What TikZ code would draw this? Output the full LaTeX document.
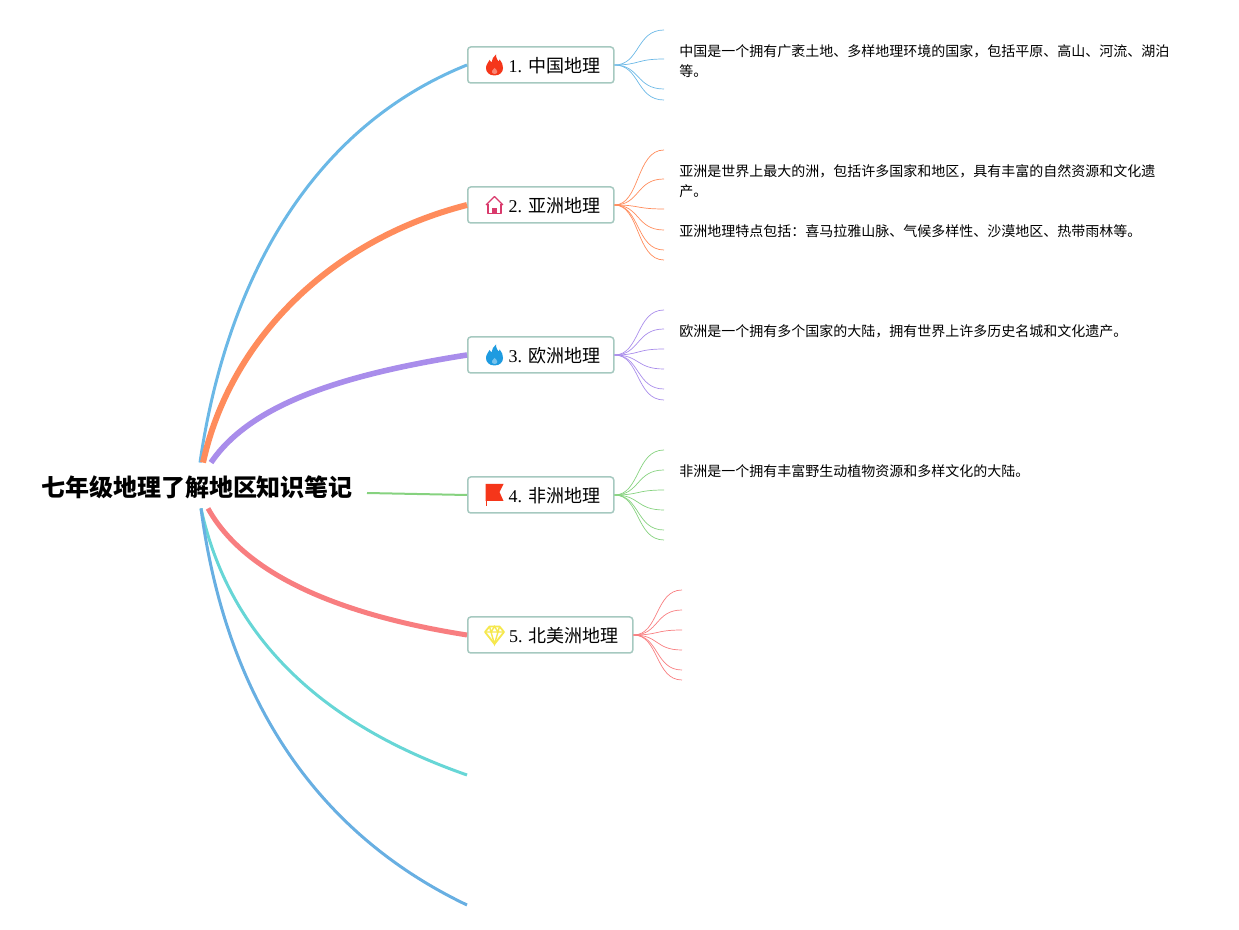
\documentclass[tikz,border=0pt]{standalone}
\usepackage{fontspec}
\setmainfont{Liberation Serif}
\newfontfamily\cjk{Noto Sans CJK SC}
\newcommand\zhcomma{\symbol{"FF0C}}
\newcommand\zhcolon{\symbol{"FF1A}}
\definecolor{boxline}{HTML}{A6C9C0}
\definecolor{linea}{HTML}{6BB8E6}
\definecolor{lineb}{HTML}{FF8C5C}
\definecolor{linec}{HTML}{A98DEB}
\definecolor{lined}{HTML}{86D27F}
\definecolor{linee}{HTML}{F87E80}
\definecolor{linef}{HTML}{67D6D6}
\definecolor{lineg}{HTML}{68AFE2}
\definecolor{iconred}{HTML}{F5361A}
\definecolor{iconblue}{HTML}{1E9BE0}
\definecolor{iconrose}{HTML}{D93A6C}
\definecolor{iconyellow}{HTML}{F6E84E}
\tikzset{
  every picture/.style={x=0.5pt, y=-0.5pt},
  root/.style={
    minimum width=170pt, minimum height=24pt,
    inner sep=0pt, font=\cjk\bfseries\fontsize{12}{14}\selectfont
  },
  topic/.style={
    draw=boxline, line width=0.75pt, rounded corners=1.5pt, fill=white, anchor=west,
    minimum height=18pt, inner sep=0pt, text height=9pt, text depth=1pt,
    font=\fontsize{9}{12}\selectfont
  },
  detail/.style={
    anchor=west, align=left, inner sep=0pt,
    font=\cjk\fontsize{7}{10}\selectfont
  },
  branch/.style={line width=#1},
  leaf/.style={draw=#1, line width=0.35pt},
  pics/flame/.style={code={
    \fill[#1] (0,10.5) .. controls (-5.5,10.5) and (-8.5,7) .. (-8.5,3)
      .. controls (-8.5,-1) and (-6,-2) .. (-5,-5) .. controls (-4,-3.5) and (-3.5,-3) .. (-3,-2.5)
      .. controls (-2.5,-6) and (-1,-8.5) .. (1.5,-10.5) .. controls (1.5,-7) and (3,-5) .. (4,-3.5)
      .. controls (4.5,-4) and (5,-4.5) .. (5.2,-5.5) .. controls (7.5,-3) and (8.5,0) .. (8.5,3)
      .. controls (8.5,7) and (5.5,10.5) .. (0,10.5) -- cycle;
    \fill[white, opacity=0.4] (0,9) .. controls (-2,9) and (-3,7.5) .. (-2.5,6)
      .. controls (-2,4.5) and (-0.5,4) .. (0,3) .. controls (1,4) and (3,5) .. (2.8,7)
      .. controls (2.6,8.2) and (1.5,9) .. (0,9) -- cycle;
  }},
  pics/house/.style={code={
    \draw[#1, line width=0.7pt, line join=round] (-8.5,0) -- (0,-8.5) -- (8.5,0);
    \draw[#1, line width=0.7pt, line join=round] (-6.5,-1) -- (-6.5,8.5) -- (6.5,8.5) -- (6.5,-1);
    \fill[#1] (-2.5,8.5) -- (-2.5,3.5) -- (2.5,3.5) -- (2.5,8.5) -- cycle;
  }},
  pics/banner/.style={code={
    \fill[#1] (-9,-11) rectangle (-7.8,11);
    \fill[#1] (-9,-11) -- (9,-11) -- (5,-3) -- (9,6) -- (-9,6) -- cycle;
  }},
  pics/gem/.style={code={
    \draw[#1, line width=0.9pt, line join=round] (-5,-8.5) -- (5,-8.5) -- (9.5,-3) -- (0,9) -- (-9.5,-3) -- cycle;
    \draw[#1, line width=0.7pt] (-9.5,-3) -- (9.5,-3) (-5,-8.5) -- (-3.5,-3) -- (0,9) -- (3.5,-3) -- (5,-8.5)
      (-3.5,-3) -- (0,-8.5) -- (3.5,-3);
  }}
}
\begin{document}
\begin{tikzpicture}
  \useasboundingbox (0,0) rectangle (1239,930);
  \node[root] (R) at (197,487) {七年级地理了解地区知识笔记};
  \coordinate (F) at (467,775);
  \coordinate (G) at (467,905);
  \coordinate (Ra) at ([xshift=1.5pt]R.north);
  \coordinate (Rb) at ([xshift=3pt]R.north);
  \coordinate (Rc) at ([xshift=7pt]R.north);
  \coordinate (Rd) at ([xshift=85pt,yshift=-3pt]R.center);
  \coordinate (Re) at ([xshift=5.5pt,yshift=1.5pt]R.south);
  \coordinate (Rf) at ([xshift=2pt,yshift=1.5pt]R.south);
  \coordinate (Rg) at ([xshift=2pt,yshift=1.5pt]R.south);
  \node[topic, minimum width=73pt] (A) at (467,65) {\hspace*{13.5pt}1. {\cjk 中国地理}};
  \node[topic, minimum width=73pt] (B) at (467,205) {\hspace*{13.5pt}2. {\cjk 亚洲地理}};
  \node[topic, minimum width=73pt] (C) at (467,355) {\hspace*{13.5pt}3. {\cjk 欧洲地理}};
  \node[topic, minimum width=73pt] (D) at (467,495) {\hspace*{13.5pt}4. {\cjk 非洲地理}};
  \node[topic, minimum width=82.5pt] (E) at (467,635) {\hspace*{13.5pt}5. {\cjk 北美洲地理}};
  \draw[linea, branch=1.5pt] (Ra) .. controls (225,290) and (305,130) .. (A.west);
  \draw[lineb, branch=3pt] (Rb) .. controls (230,340) and (330,240) .. (B.west);
  \draw[linec, branch=2.8pt] (Rc) .. controls (250,405) and (340,375) .. (C.west);
  \draw[lined, branch=1pt] (Rd) -- (D.west);
  \draw[linee, branch=2.5pt] (Re) .. controls (245,575) and (340,615) .. (E.west);
  \draw[linef, branch=1.5pt] (Rf) .. controls (228,632) and (315,722) .. (F);
  \draw[lineg, branch=1.5pt] (Rg) .. controls (225,690) and (310,830) .. (G);
  \pic at (494.5,65) {flame=iconred};
  \pic at (494.5,205) {house=iconrose};
  \pic at (494.5,355) {flame=iconblue};
  \pic at (494.5,495) {banner=iconred};
  \pic at (494.5,635) {gem=iconyellow};
  % thin lines at the right of each box
  \foreach \n/\y in {1/30,2/59,3/89,4/100} {
    \coordinate (a\n) at (664,\y);
    \draw[leaf=linea] (A.east) .. controls (640,65) and (636,\y) .. (a\n);
  }
  \foreach \n/\y in {1/150,2/179,3/209,4/230,5/250,6/260} {
    \coordinate (b\n) at (664,\y);
    \draw[leaf=lineb] (B.east) .. controls (640,205) and (636,\y) .. (b\n);
  }
  \foreach \n/\y in {1/310,2/329,3/349,4/369,5/389,6/400} {
    \coordinate (c\n) at (664,\y);
    \draw[leaf=linec] (C.east) .. controls (640,355) and (636,\y) .. (c\n);
  }
  \foreach \n/\y in {1/450,2/470,3/490,4/510,5/530,6/540} {
    \coordinate (d\n) at (664,\y);
    \draw[leaf=lined] (D.east) .. controls (640,495) and (636,\y) .. (d\n);
  }
  \foreach \n/\y in {1/590,2/610,3/630,4/650,5/670,6/680} {
    \coordinate (e\n) at (682,\y);
    \draw[leaf=linee] (E.east) .. controls (659,635) and (655,\y) .. (e\n);
  }
  \node[detail] (Atext) at (679,61.5) {中国是一个拥有广袤土地、多样地理环境的国家\zhcomma 包括平原、高山、河流、湖泊\\等。};
  \node[detail] (Btext) at (679,201.5) {亚洲是世界上最大的洲\zhcomma 包括许多国家和地区\zhcomma 具有丰富的自然资源和文化遗\\产。\\[10pt]亚洲地理特点包括\zhcolon 喜马拉雅山脉、气候多样性、沙漠地区、热带雨林等。};
  \node[detail] (Ctext) at (679,331.5) {欧洲是一个拥有多个国家的大陆\zhcomma 拥有世界上许多历史名城和文化遗产。};
  \node[detail] (Dtext) at (679,471.5) {非洲是一个拥有丰富野生动植物资源和多样文化的大陆。};
\end{tikzpicture}
\end{document}
